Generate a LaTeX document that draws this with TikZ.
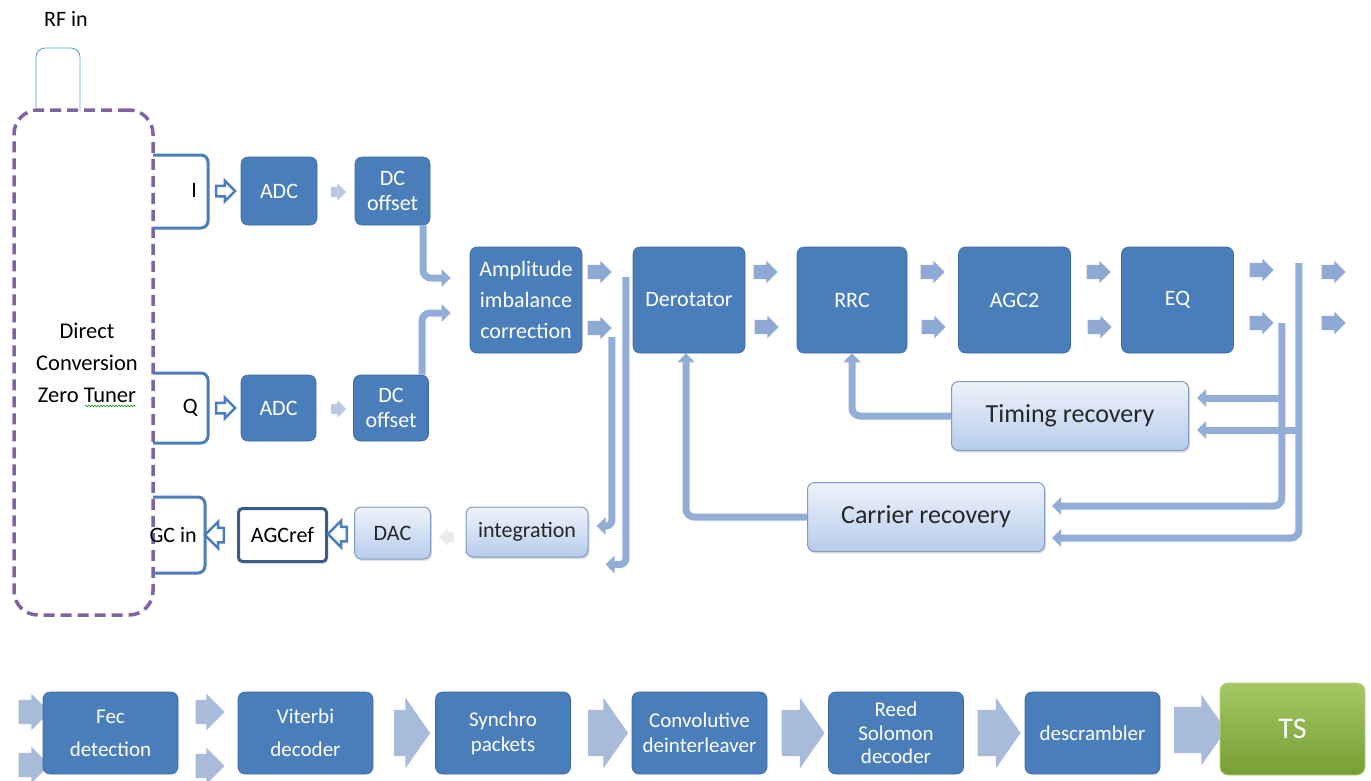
\documentclass[tikz,border=0pt]{standalone}
\usepackage{fontspec}
\setmainfont{Carlito}
\usetikzlibrary{shapes.arrows,arrows.meta,positioning,calc,shadows,decorations.pathmorphing}

\definecolor{boxblue}{RGB}{74,126,187}
\definecolor{boxedge}{RGB}{62,104,158}
\definecolor{arrowblue}{RGB}{142,170,212}
\definecolor{arrowgrey}{RGB}{168,187,216}
\definecolor{feedblue}{RGB}{146,174,214}
\definecolor{liteTop}{RGB}{238,243,251}
\definecolor{liteBot}{RGB}{182,204,235}
\definecolor{liteEdge}{RGB}{128,154,194}
\definecolor{tunerpurple}{RGB}{128,100,162}
\definecolor{rfteal}{RGB}{75,172,198}
\definecolor{refedge}{RGB}{56,93,138}
\definecolor{tsTop}{RGB}{164,200,100}
\definecolor{tsBot}{RGB}{118,158,52}

\tikzset{
  blk/.style={rectangle, rounded corners=7pt, fill=boxblue, draw=boxedge, line width=0.6pt,
    text=white, align=center, inner sep=0pt, font=\fontsize{22}{25}\selectfont},
  bigblk/.style={blk, minimum width=112pt, minimum height=106pt},
  lowblk/.style={blk, minimum width=135pt, minimum height=82pt, font=\fontsize{21}{25}\selectfont},
  litebox/.style={rectangle, rounded corners=7pt, top color=liteTop, bottom color=liteBot,
    draw=liteEdge, line width=1pt, text=black!85, align=center, inner sep=0pt,
    drop shadow={opacity=0.25, shadow xshift=1.5pt, shadow yshift=-2pt},
    font=\fontsize{22}{25}\selectfont},
  recbox/.style={litebox, minimum width=237pt, minimum height=69pt, font=\fontsize{26}{30}\selectfont},
  lbl/.style={inner sep=0pt, text=black, font=\fontsize{22}{25}\selectfont},
  blkarrow/.style={single arrow, fill=arrowblue, draw=none, inner xsep=0pt, inner ysep=7pt,
    single arrow head extend=4pt, minimum height=24pt},
  tinyarrow/.style={blkarrow, fill=arrowgrey!80, minimum height=15pt, inner ysep=5pt,
    single arrow head extend=3.5pt},
  lowarrow/.style={blkarrow, fill=arrowgrey, minimum height=31pt, inner ysep=12pt,
    single arrow head extend=6pt},
  fatarrow/.style={blkarrow, fill=arrowgrey, minimum height=40pt, inner ysep=23pt,
    single arrow head extend=12pt, single arrow tip angle=110},
  hollow/.style={single arrow, draw=boxblue, line width=2.5pt, fill=white, inner xsep=0pt,
    inner ysep=4pt, minimum height=19pt, single arrow head extend=5pt},
  feed/.style={draw=feedblue, line width=7pt, rounded corners=8pt,
    -{Triangle[width=17pt,length=9pt]}},
  bracket/.style={draw=boxblue, line width=3pt, rounded corners=7pt},
  tuner/.style={draw=tunerpurple, line width=3.5pt, dash pattern=on 11pt off 6pt,
    rounded corners=24pt, inner sep=0pt},
  rfline/.style={draw=rfteal, line width=0.9pt, rounded corners=9pt},
}

\begin{document}
\begin{tikzpicture}[x=1pt,y=1pt,yscale=-1]
\useasboundingbox (0,0) rectangle (1371,780);

% RF input and tuner
\node[lbl] (rfin) at (66,19) {RF in};
\draw[rfline] (36,111) -- (36,48) -- (80,48) -- (80,111);
\node[tuner, minimum width=139pt, minimum height=505pt] (tuner) at (83.5,362.5) {};
\node[lbl, align=center, font=\fontsize{22.5}{32}\selectfont] (tunertxt) at (87,363) {Direct\\Conversion\\Zero Tuner};
\draw[green!55!black, line width=0.5pt, decorate, decoration={snake, amplitude=0.8pt, segment length=3pt}] (85,406) -- (136,406);

% I, Q and AGC brackets
\draw[bracket] (153,155) -- (208,155) -- (208,228) -- (153,228);
\draw[bracket] (153,373) -- (208,373) -- (208,443) -- (153,443);
\draw[bracket] (153,497) -- (205,497) -- (205,573) -- (153,573);
\node[lbl, anchor=east] (ilab) at (197,190) {I};
\node[lbl, anchor=east] (qlab) at (198,408) {Q};
\node[lbl, anchor=east] (agcin) at (197,535) {GC in};

% I path
\node[hollow] (iarr) at (223,191) {};
\node[blk, minimum width=76pt, minimum height=68pt] (adcI) at (279,191) {ADC};
\node[tinyarrow] (iarr2) at (336,192) {};
\node[blk, minimum width=75pt, minimum height=68pt] (dcI) at (392.5,191) {DC\\offset};

% Q path
\node[hollow] (qarr) at (223,408) {};
\node[blk, minimum width=75pt, minimum height=66pt] (adcQ) at (278.5,408) {ADC};
\node[tinyarrow] (qarr2) at (336,409) {};
\node[blk, minimum width=75pt, minimum height=66pt] (dcQ) at (391,408) {DC\\offset};

% AGC loop
\node[hollow, shape border rotate=180, inner ysep=6pt, single arrow head extend=6pt] (garr) at (218,535) {};
\node[rectangle, rounded corners=4pt, draw=refedge, line width=3pt, fill=white,
  minimum width=88pt, minimum height=53pt, inner sep=0pt, font=\fontsize{22}{25}\selectfont,
  drop shadow={opacity=0.25, shadow xshift=1.5pt, shadow yshift=-2pt}] (agcref) at (282.5,535) {AGCref};
\node[hollow, shape border rotate=180, inner ysep=6pt, single arrow head extend=6pt] (darr) at (341,534) {};
\node[litebox, minimum width=76pt, minimum height=52pt] (dac) at (392.5,533) {DAC};
\node[tinyarrow, fill=black!8, shape border rotate=180] (iarr3) at (449,537) {};
\node[litebox, minimum width=122pt, minimum height=50pt] (integ) at (527,532) {integration};

% main chain
\node[bigblk, font=\fontsize{22}{31}\selectfont] (amp) at (526,300) {Amplitude\\imbalance\\correction};
\node[bigblk] (derot) at (689,300) {Derotator};
\node[bigblk, minimum width=110pt] (rrc) at (852,300) {RRC};
\node[bigblk] (agc2) at (1014.5,300) {AGC2};
\node[bigblk] (eq) at (1177.5,300) {EQ};

\node[blkarrow] (ampU) at (596,272) {};
\node[blkarrow] (ampL) at (596,328) {};
\node[blkarrow] (derU) at (762,272) {};
\node[blkarrow] (derL) at (763,327) {};
\node[blkarrow] (rrcU) at (929,272) {};
\node[blkarrow] (rrcL) at (930,327) {};
\node[blkarrow] (agcU) at (1095,272) {};
\node[blkarrow] (agcL) at (1096,327) {};
\node[blkarrow] (eqU) at (1258,270) {};
\node[blkarrow] (eqL) at (1258,323) {};
\node[blkarrow] (outU) at (1330,272) {};
\node[blkarrow] (outL) at (1330,323) {};

% recovery loops
\node[recbox] (timing) at (1070,416) {Timing recovery};
\node[recbox] (carrier) at (926,517) {Carrier recovery};

% feed lines
\draw[feed] ($(dcI.south)+(30.5,0)$) |- ($(amp.west)+(-19,-22)$);
\draw[feed] ($(dcQ.north)+(31,0)$) |- ($(amp.west)+(-19,13)$);
\coordinate (tapAi) at ($(ampL.east)+(0,9)$);
\coordinate (tapAo) at ($(ampU.east)+(14,5)$);
\draw[feed, rounded corners=6pt] (tapAi) |- ($(integ.east)+(8,-6)$);
\draw[feed, rounded corners=6pt] (tapAo) |- ($(integ.south east)+(17,7)$);
\coordinate (tapEi) at ($(eqL.east)+(8,0)$);
\coordinate (tapEo) at ($(eqU.east)+(25,-7)$);
\draw[feed] ($(tapEi |- timing.east)+(0,-18)$) -- ($(timing.east)+(8,-18)$);
\draw[feed] ($(tapEo |- timing.east)+(0,14)$) -- ($(timing.east)+(8,14)$);
\draw[feed] (tapEi) |- ($(carrier.east)+(7,-11)$);
\draw[feed] (tapEo) |- ($(carrier.east)+(7,21)$);
\draw[feed] (timing.west) -| (rrc.south);
\draw[feed] (carrier.west) -| ($(derot.south)+(-3,0)$);

% output chain
\node[lowarrow] (inU) at (28,712) {};
\node[lowarrow] (inL) at (28,765) {};
\node[lowblk, font=\fontsize{21}{33}\selectfont] (fec) at (110.5,733) {Fec\\detection};
\node[lowarrow, minimum height=29pt] (fecU) at (204,712) {};
\node[lowarrow, minimum height=29pt] (fecL) at (204,766) {};
\node[lowblk, font=\fontsize{21}{33}\selectfont] (viterbi) at (305.5,733) {Viterbi\\decoder};
\node[fatarrow, minimum height=36pt] (vitarr) at (404,733) {};
\node[lowblk] (synchro) at (503,733) {Synchro\\packets};
\node[fatarrow] (syncarr) at (600,733) {};
\node[lowblk] (conv) at (699.5,733) {Convolutive\\deinterleaver};
\node[fatarrow, minimum height=43pt] (convarr) at (795,733) {};
\node[lowblk, font=\fontsize{21}{23.5}\selectfont] (reed) at (896,733) {Reed\\Solomon\\decoder};
\node[fatarrow, minimum height=43pt] (reedarr) at (991,733) {};
\node[lowblk] (descr) at (1092.5,733) {descrambler};
\node[fatarrow, minimum height=52pt] (descarr) at (1192,730) {};
\node[rectangle, rounded corners=8pt, top color=tsTop, bottom color=tsBot, draw=tsTop!80,
  line width=0.8pt, minimum width=145pt, minimum height=92pt, text=white,
  font=\fontsize{30}{34}\selectfont] (ts) at (1292.5,729) {TS};

\end{tikzpicture}
\end{document}
